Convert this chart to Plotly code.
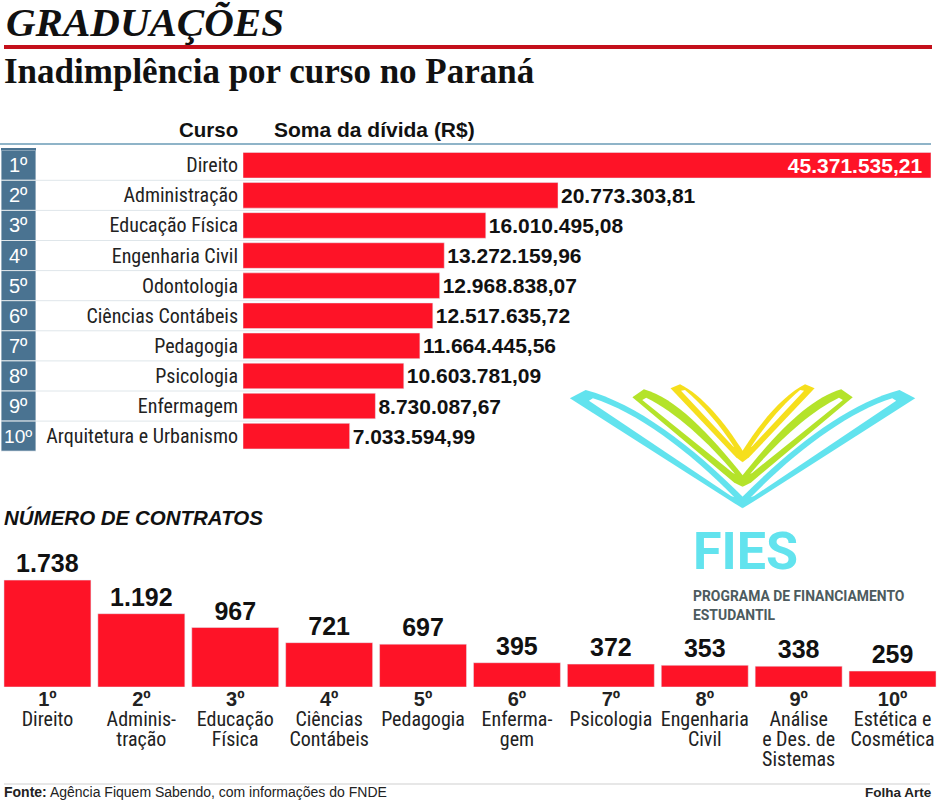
import plotly.graph_objects as go

W, H = 937, 800

# top ranking
ranks = ["1º", "2º", "3º", "4º", "5º", "6º", "7º", "8º", "9º", "10º"]
cursos = ["Direito", "Administração", "Educação Física", "Engenharia Civil", "Odontologia",
          "Ciências Contábeis", "Pedagogia", "Psicologia", "Enfermagem", "Arquitetura e Urbanismo"]
divida = [45371535.21, 20773303.81, 16010495.08, 13272159.96, 12968838.07,
          12517635.72, 11664445.56, 10603781.09, 8730087.67, 7033594.99]
divida_txt = ["45.371.535,21", "20.773.303,81", "16.010.495,08", "13.272.159,96", "12.968.838,07",
              "12.517.635,72", "11.664.445,56", "10.603.781,09", "8.730.087,67", "7.033.594,99"]

# bottom ranking
contratos_nomes = ["Direito", "Adminis-<br>tração", "Educação<br>Física", "Ciências<br>Contábeis", "Pedagogia",
                   "Enferma-<br>gem", "Psicologia", "Engenharia<br>Civil", "Análise<br>e Des. de<br>Sistemas",
                   "Estética e<br>Cosmética"]
contratos = [1738, 1192, 967, 721, 697, 395, 372, 353, 338, 259]
contratos_txt = ["1.738", "1.192", "967", "721", "697", "395", "372", "353", "338", "259"]

RED = "#fe1327"
SLATE = "#4a7391"
CYAN = "#62e3ee"
GREEN = "#b4e32a"
YELLOW = "#f6df1c"
NARROW = "Roboto Condensed, Roboto"
SANS = "Liberation Sans"
SERIF = "Liberation Serif"


def px(x):
    return x / W


def py(y):
    return 1 - y / H


def rule(x0, x1, y, color, width):
    return dict(type="line", xref="paper", yref="paper", x0=px(x0), x1=px(x1), y0=py(y), y1=py(y),
                line=dict(color=color, width=width))


def label(x, y, text, size, color="#111111", family=SANS, xanchor="left"):
    shift = -2 if xanchor == "left" else 2
    return dict(xref="paper", yref="paper", x=px(x), y=py(y), text=text, showarrow=False,
                xanchor=xanchor, yanchor="middle", xshift=shift, font=dict(family=family, size=size, color=color))


fig = go.Figure()

fig.add_trace(go.Bar(
    x=[1] * len(ranks), y=cursos, orientation="h", xaxis="x3", yaxis="y",
    marker=dict(color=SLATE, line=dict(color="#dfe6ea", width=1)),
    text=ranks, textposition="inside", insidetextanchor="middle", textangle=0,
    textfont=dict(family=SANS, size=20, color="#ffffff"), width=1,
    hoverinfo="skip",
))

fig.add_trace(go.Bar(
    x=divida, y=cursos, orientation="h", xaxis="x", yaxis="y",
    marker=dict(color=RED),
    text=[divida_txt[0] + "\u00a0"] + divida_txt[1:],
    textposition=["inside"] + ["outside"] * 9, insidetextanchor="end", textangle=0,
    textfont=dict(family=SANS, size=21, color=["#ffffff"] + ["#111111"] * 9, weight="bold"),
    constraintext="none", cliponaxis=False, width=0.85,
))

fig.add_trace(go.Bar(
    x=contratos_nomes, y=contratos, xaxis="x2", yaxis="y2",
    marker=dict(color=RED),
    text=contratos_txt, textposition="outside", textangle=0,
    textfont=dict(family=SANS, size=25, color="#111111", weight="bold"),
    constraintext="none", cliponaxis=False, width=0.926,
))

bottom_ticks = ['<span style="font-family:%s;font-weight:bold;font-size:20px">%s</span><br>'
                '<span style="font-size:20px">%s</span>'
                % (SANS, r, n.replace("<br>", '</span><br><span style="font-size:20px">'))
                for r, n in zip(ranks, contratos_nomes)]

# row separators in the top table
row_lines = [rule(36, 300, 150.2 + 30.1 * i, "#dfe6ea", 1) for i in range(1, 10)]


def wing(points, color, mirror):
    # logo shapes come from a crop measured in zoomed pixels
    def pt(p):
        zx = 1110 - p[0] if mirror else p[0]
        return "%.5f,%.5f" % (px(560 + zx / 3.04), py(370 + p[1] / 3.0))
    d = "M " + pt(points[0]) + " L " + pt(points[1]) + " C " + " ".join(pt(p) for p in points[2:5])
    d += " L " + " L ".join(pt(p) for p in points[5:]) + " Z"
    return dict(type="path", xref="paper", yref="paper", path=d, fillcolor=color, line=dict(width=0))


logo = []
for mirror in (False, True):
    logo += [
        wing([(30, 85), (78, 60), (230, 100), (400, 225), (560, 385), (555, 415), (530, 400)], CYAN, mirror),
        wing([(88, 92), (100, 85), (230, 125), (390, 240), (530, 382), (520, 378)], "#ffffff", mirror),
        wing([(220, 82), (255, 58), (350, 85), (450, 185), (560, 322), (555, 350), (530, 338)], GREEN, mirror),
        wing([(250, 90), (262, 83), (350, 125), (450, 215), (532, 312), (525, 308)], "#ffffff", mirror),
        wing([(336, 55), (365, 43), (430, 75), (500, 155), (560, 250), (555, 277), (535, 262)], YELLOW, mirror),
        wing([(368, 62), (380, 60), (430, 100), (490, 170), (530, 232), (525, 228)], "#ffffff", mirror),
    ]

shapes = [
    rule(4, 932, 47, "#c4101b", 4),
    rule(0, 931, 144, "#8fb4c8", 2),
    dict(type="rect", xref="paper", yref="paper", x0=px(1), x1=px(36), y0=py(148), y1=py(150.5),
         fillcolor=SLATE, line=dict(width=0)),
    rule(4, 930, 784, "#cfcfcf", 1),
] + row_lines + logo

annotations = [
    label(6, 22, "<b><i>GRADUAÇÕES</i></b>", 41, family=SERIF),
    label(4, 72, "<b>Inadimplência por curso no Paraná</b>", 35, family=SERIF),
    label(238, 129, "<b>Curso</b>", 20.5, xanchor="right"),
    label(274, 129, "<b>Soma da dívida (R$)</b>", 21),
    label(4, 517, "<b><i>NÚMERO DE CONTRATOS</i></b>", 20.5),
    label(693, 551, "<b>FIES</b>", 52, color=CYAN, family="Roboto"),
    label(693, 596, "<b>PROGRAMA DE FINANCIAMENTO</b>", 13.9, color="#4d5b5e", family="Roboto"),
    label(693, 615, "<b>ESTUDANTIL</b>", 13.9, color="#4d5b5e", family="Roboto"),
    label(4, 792, "<b>Fonte:</b> Agência Fiquem Sabendo, com informações do FNDE", 14, color="#222222"),
    label(932, 792, "<b>Folha Arte</b>", 13.5, color="#222222", xanchor="right"),
]

fig.update_layout(
    width=W, height=H, margin=dict(l=0, r=0, t=0, b=0), paper_bgcolor="white", plot_bgcolor="rgba(0,0,0,0)",
    showlegend=False, barmode="overlay", shapes=shapes, annotations=annotations,
    xaxis=dict(domain=[px(243), px(931)], range=[0, divida[0]], visible=False, fixedrange=True),
    xaxis3=dict(domain=[px(1), px(36)], range=[0, 1], visible=False, fixedrange=True, anchor="y"),
    yaxis=dict(domain=[py(451.2), py(150.2)], anchor="x", autorange="reversed", showline=False, showgrid=False,
               ticks="", ticklabelstandoff=4, fixedrange=True,
               tickfont=dict(family=NARROW, size=20, color="#222222")),
    xaxis2=dict(domain=[px(0.5), 1], range=[-0.5, -0.5 + 936.5 / 93.9], anchor="y2", showline=False, showgrid=False,
                ticks="", tickangle=0, tickmode="array", tickvals=contratos_nomes, ticktext=bottom_ticks,
                ticklabelstandoff=3, fixedrange=True, tickfont=dict(family=NARROW, size=15.4, color="#222222")),
    yaxis2=dict(domain=[py(687), py(540)], range=[0, 147 / 0.0615], anchor="x2", visible=False, fixedrange=True),
)

fig.write_html("out.html", config=dict(displayModeBar=False), post_script="document.body.style.margin='0';")
